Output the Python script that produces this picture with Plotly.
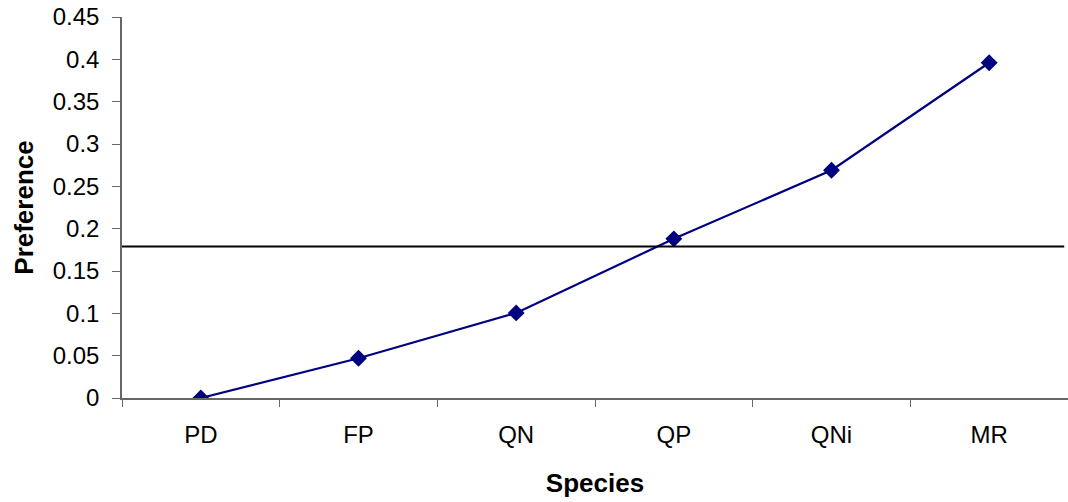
import plotly.graph_objects as go

species = ["PD", "FP", "QN", "QP", "QNi", "MR"]
preference = [0.0, 0.047, 0.1005, 0.188, 0.269, 0.396]
threshold = 0.179
y_ticks = [0, 0.05, 0.1, 0.15, 0.2, 0.25, 0.3, 0.35, 0.4, 0.45]
y_tick_labels = ["0", "0.05", "0.1", "0.15", "0.2", "0.25", "0.3", "0.35", "0.4", "0.45"]

FONT = "Liberation Sans, Arial, sans-serif"

fig = go.Figure()
fig.add_trace(go.Scatter(
    x=species, y=preference, mode="lines+markers",
    line=dict(color="#000080", width=2.2),
    marker=dict(symbol="diamond", size=13, color="#000080"),
    showlegend=False,
))

fig.add_shape(type="line", xref="paper", yref="y",
              x0=0, x1=0.996, y0=threshold, y1=threshold,
              line=dict(color="black", width=2))

fig.update_layout(
    width=1068, height=502,
    margin=dict(l=122, r=0, t=17, b=104),
    paper_bgcolor="white", plot_bgcolor="white",
    font=dict(family=FONT, size=24, color="black"),
    xaxis=dict(
        type="category", range=[-0.5, 5.5],
        tickson="boundaries", ticks="outside", ticklen=7, tickcolor="#666",
        showline=True, linecolor="#666", linewidth=1.5,
        showgrid=False, zeroline=False,
        tickfont=dict(size=24), ticklabelstandoff=14,
        title=dict(text="<b>Species</b>", font=dict(size=26), standoff=27),
    ),
    yaxis=dict(
        range=[0, 0.45], tickvals=y_ticks, ticktext=y_tick_labels,
        ticks="outside", ticklen=8, tickcolor="#666",
        showline=True, linecolor="#666", linewidth=1.5,
        showgrid=False, zeroline=False,
        tickfont=dict(size=24), ticklabelstandoff=8,
        title=dict(text="<b>Preference</b>", font=dict(size=26), standoff=12),
    ),
)

fig.write_html("out.html")
